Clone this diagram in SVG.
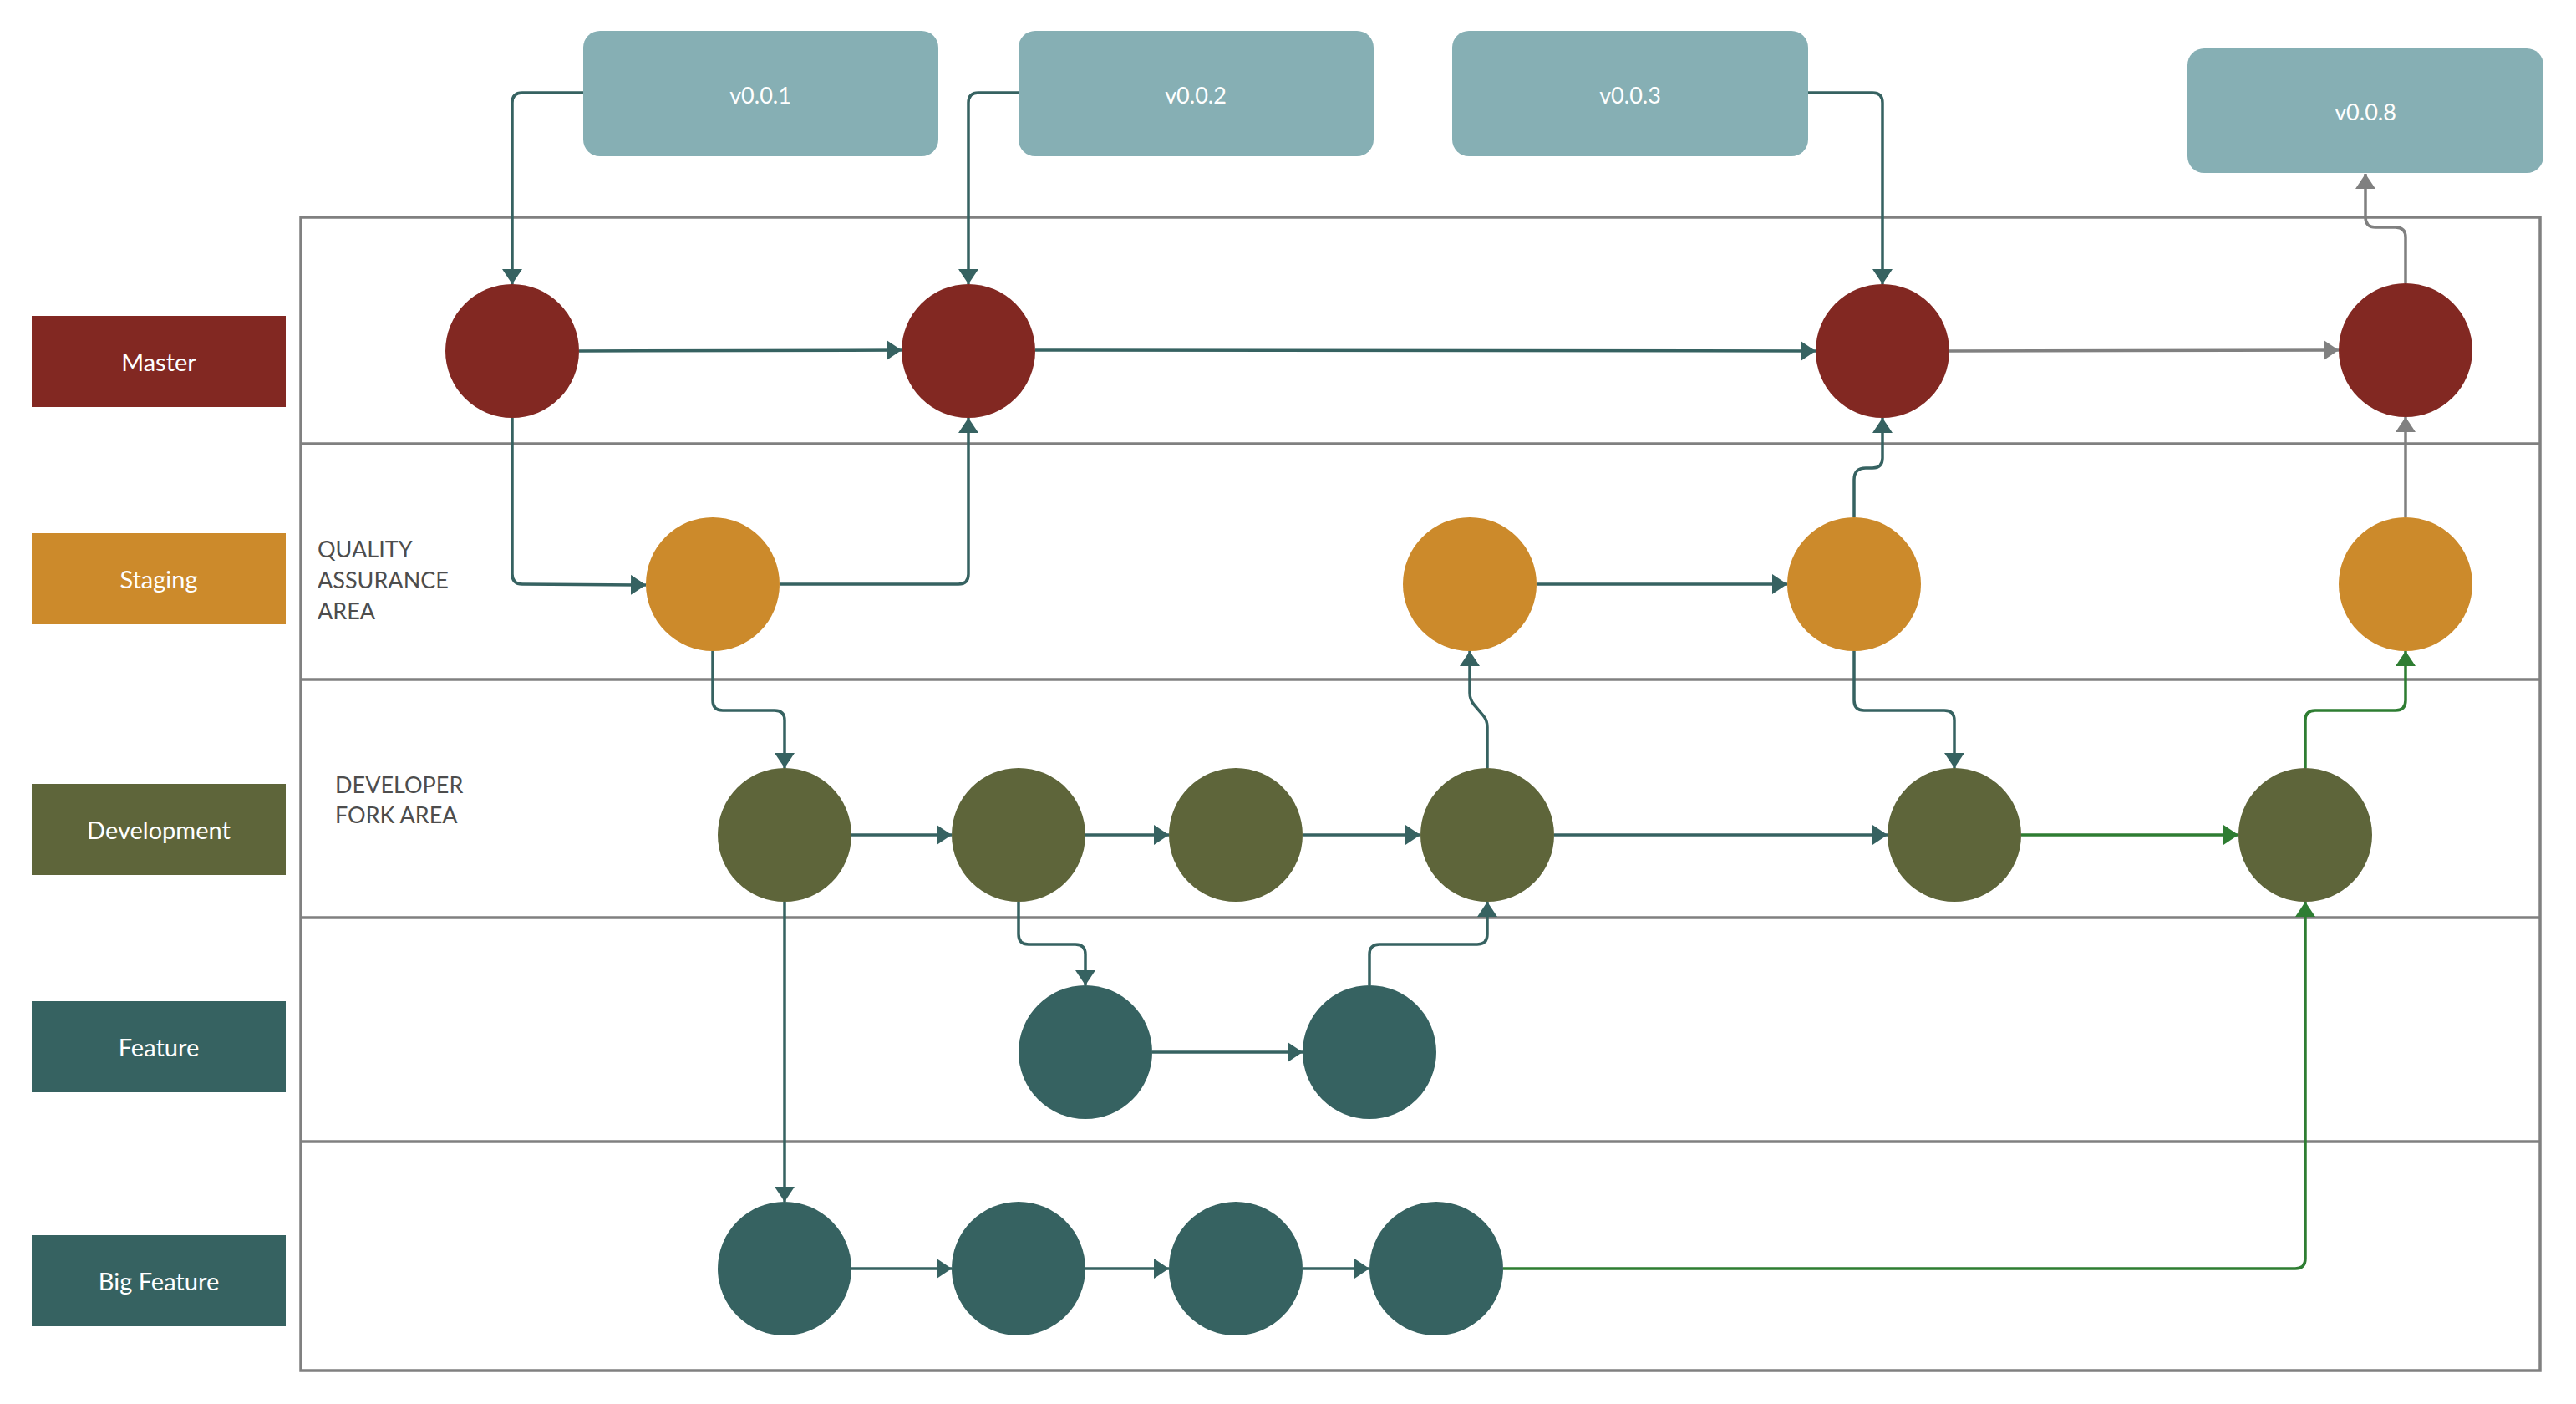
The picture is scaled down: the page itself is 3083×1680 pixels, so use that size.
<svg xmlns="http://www.w3.org/2000/svg" width="3083" height="1680" viewBox="0 0 3083 1680">
<style>
.lane{fill:none;stroke:#808080;stroke-width:3.5}
.lbl{font-family:Lato,"Open Sans","Liberation Sans",sans-serif;font-size:29px;fill:#ffffff;text-anchor:middle}
.ver{font-family:Lato,"Open Sans","Liberation Sans",sans-serif;font-size:27px;fill:#ffffff;text-anchor:middle}
.area{font-family:Lato,"Open Sans","Liberation Sans",sans-serif;font-size:27px;fill:#4d4d4d}
.vbox{fill:#86afb4}
.m{fill:#822822}.s{fill:#cc8a2b}.d{fill:#5e653a}.f{fill:#366261}
.c{fill:none;stroke-width:3.5;stroke-linejoin:round}
.t{stroke:#366261;marker-end:url(#at)}
.g{stroke:#2e7d32;marker-end:url(#ag)}
.y{stroke:#808080;marker-end:url(#ay)}
</style>
<defs>
<marker id="at" viewBox="0 0 18 24" refX="18" refY="12" markerWidth="18" markerHeight="24" markerUnits="userSpaceOnUse" orient="auto"><path d="M0,0 L18,12 L0,24 z" fill="#366261"/></marker>
<marker id="ag" viewBox="0 0 18 24" refX="18" refY="12" markerWidth="18" markerHeight="24" markerUnits="userSpaceOnUse" orient="auto"><path d="M0,0 L18,12 L0,24 z" fill="#2e7d32"/></marker>
<marker id="ay" viewBox="0 0 18 24" refX="18" refY="12" markerWidth="18" markerHeight="24" markerUnits="userSpaceOnUse" orient="auto"><path d="M0,0 L18,12 L0,24 z" fill="#808080"/></marker>
</defs>
<rect width="3083" height="1680" fill="#ffffff"/>
<g id="lanes">
<rect class="lane" x="360" y="260" width="2680" height="1380"/>
<line class="lane" x1="360" y1="531" x2="3040" y2="531"/>
<line class="lane" x1="360" y1="813" x2="3040" y2="813"/>
<line class="lane" x1="360" y1="1098" x2="3040" y2="1098"/>
<line class="lane" x1="360" y1="1366" x2="3040" y2="1366"/>
<text class="area" x="380" y="667">QUALITY</text>
<text class="area" x="380" y="704">ASSURANCE</text>
<text class="area" x="380" y="741">AREA</text>
<text class="area" x="401" y="949">DEVELOPER</text>
<text class="area" x="401" y="985">FORK AREA</text>
</g>
<g id="label-master"><rect class="m" x="38" y="378" width="304" height="109"/><text class="lbl" x="190" y="444">Master</text></g>
<g id="label-staging"><rect class="s" x="38" y="638" width="304" height="109"/><text class="lbl" x="190" y="704">Staging</text></g>
<g id="label-development"><rect class="d" x="38" y="938" width="304" height="109"/><text class="lbl" x="190" y="1004">Development</text></g>
<g id="label-feature"><rect class="f" x="38" y="1198" width="304" height="109"/><text class="lbl" x="190" y="1264">Feature</text></g>
<g id="label-bigfeature"><rect class="f" x="38" y="1478" width="304" height="109"/><text class="lbl" x="190" y="1544">Big Feature</text></g>
<g id="v001"><rect class="vbox" x="698" y="37" width="425" height="150" rx="20"/><text class="ver" x="910" y="124">v0.0.1</text></g>
<g id="v002"><rect class="vbox" x="1219" y="37" width="425" height="150" rx="20"/><text class="ver" x="1431" y="124">v0.0.2</text></g>
<g id="v003"><rect class="vbox" x="1738" y="37" width="426" height="150" rx="20"/><text class="ver" x="1951" y="124">v0.0.3</text></g>
<g id="v008"><rect class="vbox" x="2618" y="58" width="426" height="149" rx="20"/><text class="ver" x="2831" y="144">v0.0.8</text></g>
<g id="master1"><circle class="m" cx="613" cy="420" r="80"/></g>
<g id="master2"><circle class="m" cx="1159" cy="420" r="80"/></g>
<g id="master3"><circle class="m" cx="2253" cy="420" r="80"/></g>
<g id="master4"><circle class="m" cx="2879" cy="419" r="80"/></g>
<g id="staging1"><circle class="s" cx="853" cy="699" r="80"/></g>
<g id="staging2"><circle class="s" cx="1759" cy="699" r="80"/></g>
<g id="staging3"><circle class="s" cx="2219" cy="699" r="80"/></g>
<g id="staging4"><circle class="s" cx="2879" cy="699" r="80"/></g>
<g id="dev1"><circle class="d" cx="939" cy="999" r="80"/></g>
<g id="dev2"><circle class="d" cx="1219" cy="999" r="80"/></g>
<g id="dev3"><circle class="d" cx="1479" cy="999" r="80"/></g>
<g id="dev4"><circle class="d" cx="1780" cy="999" r="80"/></g>
<g id="dev5"><circle class="d" cx="2339" cy="999" r="80"/></g>
<g id="dev6"><circle class="d" cx="2759" cy="999" r="80"/></g>
<g id="feat1"><circle class="f" cx="1299" cy="1259" r="80"/></g>
<g id="feat2"><circle class="f" cx="1639" cy="1259" r="80"/></g>
<g id="big1"><circle class="f" cx="939" cy="1518" r="80"/></g>
<g id="big2"><circle class="f" cx="1219" cy="1518" r="80"/></g>
<g id="big3"><circle class="f" cx="1479" cy="1518" r="80"/></g>
<g id="big4"><circle class="f" cx="1719" cy="1518" r="80"/></g>
<g id="connectors">
<path class="c t" d="M698,111 L625,111 Q613,111 613,123 L613,340"/>
<path class="c t" d="M1219,111 L1171,111 Q1159,111 1159,123 L1159,340"/>
<path class="c t" d="M2164,111 L2241,111 Q2253,111 2253,123 L2253,340"/>
<path class="c y" d="M2879,339 L2879,284 Q2879,272 2867,272 L2843,272 Q2831,272 2831,260 L2831,208"/>
<path class="c t" d="M693,420 L1079,419"/>
<path class="c t" d="M1239,419 L2173,420"/>
<path class="c y" d="M2333,420 L2799,419"/>
<path class="c t" d="M613,500 L613,687 Q613,699 625,699 L773,700"/>
<path class="c t" d="M933,699 L1147,699 Q1159,699 1159,687 L1159,500"/>
<path class="c t" d="M853,779 L853,838 Q853,850 865,850 L927,850 Q939,850 939,862 L939,919"/>
<path class="c t" d="M1019,999 L1139,999"/>
<path class="c t" d="M1299,999 L1399,999"/>
<path class="c t" d="M1559,999 L1700,999"/>
<path class="c t" d="M939,1079 L939,1438"/>
<path class="c t" d="M1219,1079 L1219,1118 Q1219,1130 1231,1130 L1287,1130 Q1299,1130 1299,1142 L1299,1179"/>
<path class="c t" d="M1379,1259 L1559,1259"/>
<path class="c t" d="M1639,1179 L1639,1142 Q1639,1130 1651,1130 L1768,1130 Q1780,1130 1780,1118 L1780,1079"/>
<path class="c t" d="M1780,919 L1780,870 Q1780,862 1775,856 L1764,843 Q1759,837 1759,829 L1759,779"/>
<path class="c t" d="M1839,699 L2139,699"/>
<path class="c t" d="M2219,619 L2219,574 Q2219,560 2233,560 L2241,560 Q2253,560 2253,548 L2253,500"/>
<path class="c t" d="M2219,779 L2219,838 Q2219,850 2231,850 L2327,850 Q2339,850 2339,862 L2339,919"/>
<path class="c t" d="M1860,999 L2259,999"/>
<path class="c g" d="M2419,999 L2679,999"/>
<path class="c t" d="M1019,1518 L1139,1518"/>
<path class="c t" d="M1299,1518 L1399,1518"/>
<path class="c t" d="M1559,1518 L1639,1518"/>
<path class="c g" d="M1799,1518 L2747,1518 Q2759,1518 2759,1506 L2759,1079"/>
<path class="c g" d="M2759,919 L2759,862 Q2759,850 2771,850 L2867,850 Q2879,850 2879,838 L2879,779"/>
<path class="c y" d="M2879,619 L2879,499"/>
</g>
</svg>
